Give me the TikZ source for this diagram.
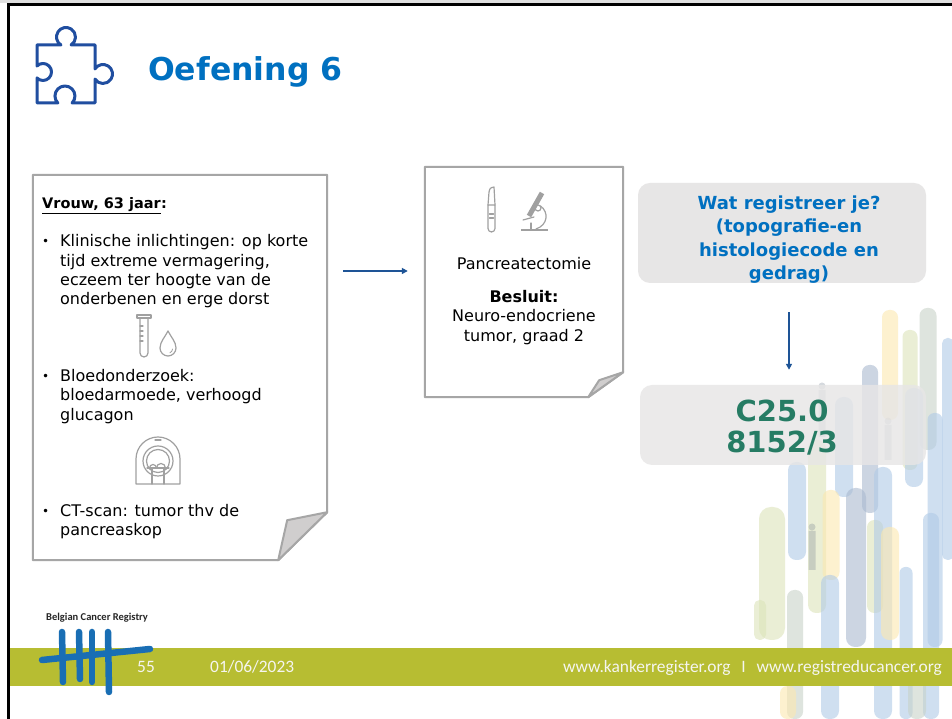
\documentclass[tikz,border=0pt]{standalone}
\usepackage{fontspec}
\setmainfont{DejaVu Sans}
\newfontfamily\footerfont{Carlito}
\usetikzlibrary{arrows.meta,positioning}

\definecolor{titelblauw}{RGB}{0,112,192}
\definecolor{puzzelblauw}{RGB}{32,78,160}
\definecolor{pijlblauw}{RGB}{30,84,150}
\definecolor{randgrijs}{RGB}{166,166,166}
\definecolor{flapgrijs}{RGB}{208,206,206}
\definecolor{icoongrijs}{RGB}{160,160,160}
\definecolor{vakgrijs}{RGB}{231,230,230}
\definecolor{codegroen}{RGB}{38,124,100}
\definecolor{bandgroen}{RGB}{183,189,50}
\definecolor{logoblauw}{RGB}{25,110,180}
\definecolor{voetwit}{RGB}{245,245,240}
\definecolor{geel}{RGB}{252,232,176}
\definecolor{groen}{RGB}{220,228,186}
\definecolor{grijs}{RGB}{200,210,200}
\definecolor{blauw}{RGB}{176,202,230}
\definecolor{blauwgrijs}{RGB}{170,186,208}

\tikzstyle{pagina} = [inner sep=0pt]
\tikzstyle{rand} = [draw=randgrijs, line width=2pt, fill=white, line join=round]
\tikzstyle{flap} = [draw=randgrijs, line width=2pt, fill=flapgrijs, line join=round]
\tikzstyle{vak} = [rounded corners=12pt, fill=vakgrijs, inner sep=0pt]
\tikzstyle{pijl} = [draw=pijlblauw, line width=1.6pt, -{Triangle[length=6pt,width=6pt]}]
\tikzstyle{tekst} = [anchor=base west, inner sep=0pt, font=\fontsize{16}{19.3}\selectfont]
\tikzstyle{bol} = [anchor=base west, inner sep=0pt, font=\fontsize{12}{14}\selectfont]
\tikzstyle{icoon} = [draw=icoongrijs, line width=1.2pt, line cap=round, line join=round]
\tikzstyle{logo} = [draw=logoblauw, line width=6.5pt, line cap=round]
\tikzstyle{voet} = [anchor=base west, inner sep=0pt, text=voetwit, font=\footerfont\fontsize{17.4}{20}\selectfont]

\begin{document}
\begin{tikzpicture}[x=1pt,y=1pt]
\fill[white] (0,0) rectangle (952,719);
\useasboundingbox (0,0) rectangle (952,719);
\fill[gray!25] (0,716) rectangle (952,719);
\draw[line width=3pt] (8.5,0) -- (8.5,714) -- (952,714);

% penseelstreken rechts
\foreach \x/\yt/\yb/\w/\k in {890/409/299/16/geel, 928/411/269/17/grijs, 910/389/249/15/groen,
  948/381/159/12/blauw, 870/354/206/16/blauwgrijs, 844/322/222/18/blauw, 914/331/232/18/blauw,
  935/306/72/15/blauw, 772/212/79/26/groen, 797/257/159/18/blauw, 817/279/106/18/groen,
  831/229/139/17/geel, 830/144/0/18/blauw, 856/231/72/20/blauwgrijs, 875/199/106/16/groen,
  883/252/0/18/blauw, 890/192/79/18/geel, 906/152/0/13/blauw, 931/206/0/16/blauw,
  917/69/0/18/grijs, 795/129/0/16/grijs, 788/33/0/16/geel, 760/119/79/12/groen}
  \fill[\k, opacity=0.6, rounded corners=\w/2.2] (\x-\w/2,\yb) rectangle (\x+\w/2,\yt);
\fill[blauwgrijs!70!black, opacity=0.3] (822,333) circle (3.5) (818.5,282) rectangle (825.5,329);
\fill[blauwgrijs!70!black, opacity=0.3] (888,298) circle (3.5) (884.5,259) rectangle (891.5,294);
\fill[blauwgrijs!70!black, opacity=0.3] (812,192) circle (3.5) (808.5,149) rectangle (815.5,188);

% voetband met logo
\fill[bandgroen] (10,33) rectangle (952,71);
\draw[logo] (62,87) -- (63,37);
\draw[logo] (79,87) -- (80,40);
\draw[logo] (92,87) -- (92,37);
\draw[logo] (108,87) -- (109,27);
\draw[logo] (42,59) -- (150,70);
\node[anchor=base west, inner sep=0pt, text=black!85, font=\footerfont\bfseries\fontsize{10.5}{12}\selectfont] (bcr) at (46,98.5) {Belgian Cancer Registry};
\node[voet] (nummer) at (137,46.5) {55};
\node[voet] (datum) at (210,46.5) {01/06/2023};
\node[voet] (websites) at (563,46.5) {www.kankerregister.org\hspace{0.62em}I\hspace{0.62em}www.registreducancer.org};

% puzzelstuk en titel
\draw[puzzelblauw, line width=3pt, line join=round] (37,616) -- (37,641)
  arc[start angle=225, end angle=495, radius=8.5] -- (37,674) -- (60.9,674)
  arc[start angle=237.4, end angle=-57.4, radius=9.5] -- (95,674) -- (95,650.1)
  arc[start angle=147.4, end angle=-147.4, radius=9.5] -- (95,616) -- (72.1,616)
  arc[start angle=-44.4, end angle=224.4, radius=10] -- cycle;
\node[anchor=base west, inner sep=0pt, text=titelblauw, font=\bfseries\fontsize{31.5}{36}\selectfont] (titel) at (148,638) {Oefening 6};

% casus links
\node[pagina, minimum width=294pt, minimum height=385pt] (casus) at (180,351.5) {};
\draw[rand] (casus.north west) -- (casus.north east) -- ([yshift=48pt]casus.south east)
  -- ([xshift=-49pt]casus.south east) -- (casus.south west) -- cycle;
\draw[flap] ([yshift=48pt]casus.south east) -- ([xshift=-40pt,yshift=40pt]casus.south east)
  -- ([xshift=-49pt]casus.south east) -- cycle;
\node[tekst, font=\bfseries\fontsize{14.5}{17}\selectfont] (kop) at (42,510) {Vrouw, 63 jaar};
\node[tekst, font=\bfseries\fontsize{14.5}{17}\selectfont] (dubbelpunt) at (kop.base east) {:};
\draw[line width=1.3pt] ([yshift=-4.5pt]kop.base west) -- ([yshift=-4.5pt]kop.base east);
\node[bol] (bol1) at (42,473) {•};
\node[tekst] (klinisch) at (60,472) {\parbox[t]{260pt}{Klinische inlichtingen: op korte\\tijd extreme vermagering,\\eczeem ter hoogte van de\\onderbenen en erge dorst}};
\node[bol] (bol2) at (42,338.5) {•};
\node[tekst] (bloed) at (60,337.5) {\parbox[t]{260pt}{Bloedonderzoek:\\bloedarmoede, verhoogd\\glucagon}};
\node[bol] (bol3) at (42,203.5) {•};
\node[tekst] (ctscan) at (60,202.5) {\parbox[t]{260pt}{CT-scan: tumor thv de\\pancreaskop}};

% reageerbuis en druppel
\draw[icoon] (137,401) rectangle (151,404);
\draw[icoon] (140,401) -- (140,366) arc[start angle=180, end angle=360, radius=4] -- (148,401);
\draw[icoon] (140,393) -- (143,393) (140,388) -- (143,388) (140,383) -- (143,383) (140,378) -- (143,378);
\draw[icoon] (168,388) .. controls (165,382) and (160,377) .. (160,371)
  arc[start angle=180, end angle=360, radius=8] .. controls (176,377) and (171,382) .. (168,388);
\draw[icoon, line width=0.8pt] (172.5,370) arc[start angle=0, end angle=-70, radius=4];

% scanner
\draw[icoon] (136,235) -- (136,260) arc[start angle=180, end angle=0, radius=22] -- (180,235) -- cycle;
\draw[icoon] (158,258) circle (15);
\draw[icoon] (158,258) circle (11.5);
\draw[icoon] (155,279) -- (161,279);
\draw[icoon] (147,251) -- (169,251);
\draw[icoon] (149.5,251) arc[start angle=180, end angle=0, radius=3.5];
\draw[icoon] (156.5,251) arc[start angle=180, end angle=0, radius=4.5];
\draw[icoon] (152,251) -- (152,235) (164,251) -- (164,235);

% pathologie in het midden
\node[pagina, minimum width=198pt, minimum height=230pt] (besluit) at (524,437) {};
\draw[rand] (besluit.north west) -- (besluit.north east) -- ([yshift=25pt]besluit.south east)
  -- ([xshift=-35pt]besluit.south east) -- (besluit.south west) -- cycle;
\draw[flap] ([yshift=25pt]besluit.south east) -- ([xshift=-24pt,yshift=17pt]besluit.south east)
  -- ([xshift=-35pt]besluit.south east) -- cycle;

% scalpel en microscoop
\draw[icoon] (488,514) -- (488,490.5) arc[start angle=180, end angle=360, radius=3.5] -- (495,514) -- cycle;
\draw[icoon] (488,514) -- (489,527) .. controls (490,531) .. (494,532) -- (495,514);
\draw[icoon] (489.5,505) -- (493.5,505) (489.5,501) -- (493.5,501);
\draw[icoon, line width=2.5pt, line cap=butt] (521,489) -- (548,489);
\draw[icoon, line width=5pt, line cap=butt] (529,503) -- (542,526);
\draw[icoon] (538,511) circle (3);
\draw[icoon] (540.5,513) .. controls (549,507) and (548,494) .. (536,490);
\draw[icoon] (523,499) -- (534,502);
\draw[icoon] (531,490) -- (531,496);

\node[tekst, anchor=base] (ingreep) at (524,449.5) {Pancreatectomie};
\node[tekst, anchor=base] (diagnose) at (524,416.5) {\parbox[t]{180pt}{\centering\textbf{Besluit:}\\Neuro-endocriene\\tumor, graad 2}};

% vraag en antwoord rechts
\node[vak, minimum width=288pt, minimum height=100pt] (vraag) at (782,486) {};
\node[vak, fill opacity=0.82, minimum width=286pt, minimum height=80pt] (code) at (783,294) {};
\node[anchor=base, inner sep=0pt, text=titelblauw, font=\bfseries\fontsize{18}{23.3}\selectfont] (vraagtekst) at (789,509.5)
  {\parbox[t]{280pt}{\centering Wat registreer je?\\(topografie-en\\histologiecode en\\gedrag)}};
\node[anchor=base, inner sep=0pt, text=codegroen, font=\bfseries\fontsize{29}{31}\selectfont] (codetekst) at (782,297.5)
  {\parbox[t]{200pt}{\centering C25.0\\8152/3}};

% pijlen
\draw[pijl] ([xshift=16pt,yshift=96.5pt]casus.east) -- ([xshift=-17pt,yshift=11pt]besluit.west);
\draw[pijl] ([xshift=7pt,yshift=-29pt]vraag.south) -- ([xshift=6pt,yshift=15pt]code.north);
\end{tikzpicture}
\end{document}
